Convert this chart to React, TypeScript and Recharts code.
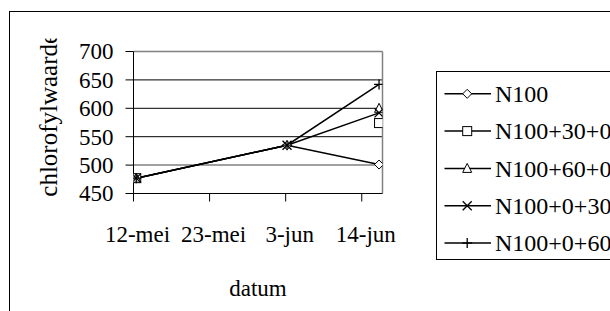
import React from "react";
import { LineChart, Line, XAxis, YAxis, CartesianGrid, ReferenceLine, Legend, Label } from "recharts";

// dates as days after 12-mei
const dayNumbers = [0.4, 22.2, 35.5];
const n100 = [477, 535, 501];
const n100p30p0 = [477, null, 574];
const n100p60p0 = [477, null, 600];
const n100p0p30 = [477, 535, 592];
const n100p0p60 = [477, 535, 642];

const seriesNames = ["N100", "N100+30+0", "N100+60+0", "N100+0+30", "N100+0+60"];
const seriesValues = [n100, n100p30p0, n100p60p0, n100p0p30, n100p0p60];
const seriesShapes = ["diamond", "square", "triangle", "cross", "plus"];

const xTickDays = [0, 11, 22, 33];
const xTickLabels = ["12-mei", "23-mei", "3-jun", "14-jun"];
const yTicks = [450, 500, 550, 600, 650, 700];
const xTitle = "datum";
const yTitle = "chlorofylwaarde";

const FONT = "Liberation Serif";

const data = dayNumbers.map((d, i) => {
  const row: any = { day: d };
  seriesNames.forEach((n, k) => {
    row["s" + k] = seriesValues[k][i];
  });
  return row;
});

function Marker({ shape, cx, cy }: { shape: string; cx: number; cy: number }) {
  const s = 4.5;
  const common = { stroke: "#000", strokeWidth: 1, fill: "#fff" };
  if (shape === "diamond")
    return <polygon points={`${cx},${cy - s} ${cx + s},${cy} ${cx},${cy + s} ${cx - s},${cy}`} {...common} />;
  if (shape === "square")
    return <rect x={cx - s} y={cy - s} width={2 * s} height={2 * s} {...common} />;
  if (shape === "triangle")
    return <polygon points={`${cx},${cy - s - 0.5} ${cx + s},${cy + s - 0.5} ${cx - s},${cy + s - 0.5}`} {...common} />;
  if (shape === "cross")
    return (
      <g stroke="#000" strokeWidth={1.3}>
        <line x1={cx - s} y1={cy - s} x2={cx + s} y2={cy + s} />
        <line x1={cx - s} y1={cy + s} x2={cx + s} y2={cy - s} />
      </g>
    );
  return (
    <g stroke="#000" strokeWidth={1.3}>
      <line x1={cx - s - 0.5} y1={cy} x2={cx + s + 0.5} y2={cy} />
      <line x1={cx} y1={cy - s - 0.5} x2={cx} y2={cy + s + 0.5} />
    </g>
  );
}

const makeDot = (shape: string) => (props: any) => {
  const { cx, cy, index, value } = props;
  if (cx == null || cy == null || value == null) return <g key={"d" + index} />;
  return (
    <g key={"d" + index}>
      <Marker shape={shape} cx={cx} cy={cy} />
    </g>
  );
};

const XTick = (props: any) => {
  const { x, y, payload } = props;
  const i = xTickDays.indexOf(payload.value);
  return (
    <text x={x + 4} y={y + 38} textAnchor="middle" fontFamily={FONT} fontSize={23} fill="#000">
      {xTickLabels[i]}
    </text>
  );
};

const YTick = (props: any) => {
  const { x, y, payload } = props;
  return (
    <text x={x - 10} y={y} dy="0.34em" textAnchor="end" fontFamily={FONT} fontSize={23} fill="#000">
      {payload.value}
    </text>
  );
};

const LegendBox = () => {
  return (
    <div style={{ width: 200, height: 187, border: "1px solid #000", background: "#fff", position: "relative" }}>
      <svg width={200} height={187} style={{ position: "absolute", left: 0, top: 0 }}>
        {seriesNames.map((name, i) => {
          const cy = 21.8 + i * 37.3;
          return (
            <g key={name}>
              <line x1={7.5} x2={54} y1={cy} y2={cy} stroke="#000" strokeWidth={1.5} />
              <Marker shape={seriesShapes[i]} cx={30.2} cy={cy} />
              <text x={58} y={cy} dy="0.34em" fontFamily={FONT} fontSize={24} fill="#000">
                {name}
              </text>
            </g>
          );
        })}
      </svg>
    </div>
  );
};

export default function App() {
  return (
    <div style={{ position: "absolute", left: 0, top: 0, width: 610, height: 311, overflow: "hidden", background: "#fff" }}>
      <div
        style={{
          position: "absolute",
          left: 9,
          top: 10.5,
          width: 800,
          height: 500,
          border: "1.5px solid #000",
          boxSizing: "border-box",
        }}
      />
      <LineChart
        width={610}
        height={311}
        data={data}
        margin={{ top: 51.5, right: 227.5, bottom: 87.5, left: 73.5 }}
        style={{ position: "absolute", left: 0, top: 0 }}
      >
        <CartesianGrid vertical={false} horizontalValues={[550, 600, 650]} stroke="#000" strokeWidth={1} />
        <ReferenceLine y={500} stroke="#808080" strokeWidth={1.5} />
        <ReferenceLine y={700} stroke="#808080" strokeWidth={1.5} />
        <ReferenceLine x={36} stroke="#808080" strokeWidth={1.5} />
        <XAxis
          type="number"
          dataKey="day"
          domain={[0, 36]}
          ticks={xTickDays}
          interval={0}
          height={30}
          tickSize={8}
          tickMargin={2}
          axisLine={{ stroke: "#000", strokeWidth: 1 }}
          tickLine={{ stroke: "#000", strokeWidth: 1 }}
          tick={<XTick />}
          allowDataOverflow
        >
          <Label
            content={(p: any) => {
              const vb = p.viewBox || {};
              return (
                <text x={vb.x + vb.width / 2} y={vb.y + 102} textAnchor="middle" fontFamily={FONT} fontSize={23} fill="#000">
                  {xTitle}
                </text>
              );
            }}
          />
        </XAxis>
        <YAxis
          type="number"
          domain={[450, 700]}
          ticks={yTicks}
          interval={0}
          width={60}
          tickSize={8}
          tickMargin={2}
          axisLine={{ stroke: "#000", strokeWidth: 1 }}
          tickLine={{ stroke: "#000", strokeWidth: 1 }}
          tick={<YTick />}
          allowDataOverflow
        >
          <Label
            content={() => (
              <g>
                <defs>
                  <clipPath id="ytitle-clip">
                    <rect x={0} y={38.5} width={120} height={260} />
                  </clipPath>
                </defs>
                <g clipPath="url(#ytitle-clip)">
                  <text
                    x={57.5}
                    y={196.7}
                    transform="rotate(-90 57.5 196.7)"
                    textAnchor="start"
                    fontFamily={FONT}
                    fontSize={25}
                    fill="#000"
                  >
                    {yTitle}
                  </text>
                </g>
              </g>
            )}
          />
        </YAxis>
        <Legend
          layout="vertical"
          align="center"
          verticalAlign="middle"
          wrapperStyle={{ left: 436, top: 71, width: 200, height: 189 }}
          content={<LegendBox />}
        />
        {seriesNames.map((name, k) => (
          <Line
            key={name}
            name={name}
            dataKey={"s" + k}
            type="linear"
            stroke="#000"
            strokeWidth={1.5}
            dot={makeDot(seriesShapes[k])}
            activeDot={false}
            connectNulls={false}
            isAnimationActive={false}
          />
        ))}
      </LineChart>
    </div>
  );
}
